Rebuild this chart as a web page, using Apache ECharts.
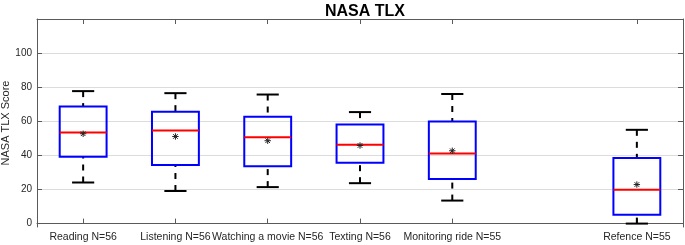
<!DOCTYPE html>
<html>
<head>
<meta charset="utf-8">
<script src="https://cdn.jsdelivr.net/npm/echarts@6/dist/echarts.min.js"></script>
<style>
html,body{margin:0;padding:0;background:#fff;}
#chart{width:685px;height:245px;}
</style>
</head>
<body>
<div id="chart"></div>
<script>
// Data
var categories = ['Reading N=56', 'Listening N=56', 'Watching a movie N=56', 'Texting N=56', 'Monitoring ride N=55', '', 'Refence N=55'];
var boxPositions = [0, 1, 2, 3, 4, 6];
var whiskerLow  = [24.1, 19.1, 21.4, 23.7, 13.5, 0.0];
var q1Values    = [39.2, 34.3, 33.7, 35.7, 26.1, 5.2];
var medianValues= [53.4, 54.6, 50.7, 46.2, 41.1, 19.8];
var q3Values    = [68.7, 65.6, 62.6, 58.1, 59.9, 38.4];
var whiskerHigh = [77.7, 76.5, 75.7, 65.4, 76.0, 55.0];
var meanValues  = [52.7, 51.1, 48.6, 45.8, 42.7, 22.9];
var yTicks = [0, 20, 40, 60, 80, 100];

var boxData = boxPositions.map(function (p, i) {
  return [p, whiskerLow[i], q1Values[i], medianValues[i], q3Values[i], whiskerHigh[i], meanValues[i]];
});

var axisColor = '#5a5a5a';
var textColor = '#262626';
var font = 'Liberation Sans, Arial, Helvetica, sans-serif';

function renderBox(params, api) {
  var x = api.value(0);
  var band = api.size([1, 0])[0];
  var hw = band * 0.254;
  var cw = band * 0.12;
  var pLow = api.coord([x, api.value(1)]);
  var pQ1 = api.coord([x, api.value(2)]);
  var pMed = api.coord([x, api.value(3)]);
  var pQ3 = api.coord([x, api.value(4)]);
  var pHigh = api.coord([x, api.value(5)]);
  var pMean = api.coord([x, api.value(6)]);
  var cx = pMed[0];
  var children = [];
  // whiskers (dashed)
  children.push({type: 'line', shape: {x1: cx, y1: pHigh[1], x2: cx, y2: pQ3[1]},
    style: {stroke: '#000', lineWidth: 2, lineDash: [6, 6], fill: null}});
  children.push({type: 'line', shape: {x1: cx, y1: pLow[1], x2: cx, y2: pQ1[1]},
    style: {stroke: '#000', lineWidth: 2, lineDash: [6, 6], fill: null}});
  // caps
  children.push({type: 'line', shape: {x1: cx - cw, y1: pHigh[1], x2: cx + cw, y2: pHigh[1]},
    style: {stroke: '#000', lineWidth: 2}});
  children.push({type: 'line', shape: {x1: cx - cw, y1: pLow[1], x2: cx + cw, y2: pLow[1]},
    style: {stroke: '#000', lineWidth: 2}});
  // box
  children.push({type: 'rect', shape: {x: cx - hw, y: pQ3[1], width: hw * 2, height: pQ1[1] - pQ3[1]},
    style: {stroke: '#0000ff', lineWidth: 2, fill: null}});
  // median
  children.push({type: 'line', shape: {x1: cx - hw, y1: pMed[1], x2: cx + hw, y2: pMed[1]},
    style: {stroke: '#ff0000', lineWidth: 2}});
  // mean asterisk
  var r = 3.2, mx = pMean[0], my = pMean[1], d = r * 0.72;
  [[-r, 0, r, 0], [0, -r, 0, r], [-d, -d, d, d], [-d, d, d, -d]].forEach(function (s) {
    children.push({type: 'line', shape: {x1: mx + s[0], y1: my + s[1], x2: mx + s[2], y2: my + s[3]},
      style: {stroke: '#222', lineWidth: 1}});
  });
  return {type: 'group', children: children};
}

var chart = echarts.init(document.getElementById('chart'), null, {renderer: 'canvas'});
var tickInterval = function (index) { return categories[index] !== ''; };
chart.setOption({
  animation: false,
  backgroundColor: '#fff',
  title: {
    text: 'NASA TLX', left: 360, top: -1, textAlign: 'center',
    textStyle: {fontFamily: font, fontSize: 16, fontWeight: 'bold', color: '#000'}
  },
  grid: {left: 37, right: 2, top: 19, bottom: 18, containLabel: false, outerBoundsMode: 'none'},
  xAxis: [{
    type: 'category', data: categories, boundaryGap: true, position: 'bottom',
    axisLine: {show: true, lineStyle: {color: axisColor, width: 1}},
    axisTick: {show: true, inside: true, length: 5, alignWithLabel: true, interval: tickInterval, lineStyle: {color: axisColor}},
    axisLabel: {interval: 0, margin: 5, color: textColor, fontFamily: font, fontSize: 10.5},
    splitLine: {show: false}
  }, {
    type: 'category', data: categories, boundaryGap: true, position: 'top',
    axisLine: {show: true, onZero: false, lineStyle: {color: axisColor, width: 1}},
    axisTick: {show: true, inside: true, length: 5, alignWithLabel: true, interval: tickInterval, lineStyle: {color: axisColor}},
    axisLabel: {show: false},
    splitLine: {show: false}
  }],
  yAxis: [{
    type: 'value', min: -2, max: 120, position: 'left',
    name: 'NASA TLX Score', nameLocation: 'middle', nameGap: 26, nameRotate: 90, nameMoveOverlap: false,
    nameTextStyle: {fontFamily: font, fontSize: 11, color: textColor},
    axisLine: {show: true, onZero: false, lineStyle: {color: axisColor, width: 1}},
    axisTick: {show: true, inside: true, length: 5, customValues: yTicks, lineStyle: {color: axisColor}},
    axisLabel: {margin: 5, customValues: yTicks, color: textColor, fontFamily: font, fontSize: 10},
    splitLine: {show: true, lineStyle: {color: '#dcdcdc', width: 1}}
  }, {
    type: 'value', min: -2, max: 120, position: 'right',
    axisLine: {show: true, onZero: false, lineStyle: {color: axisColor, width: 1}},
    axisTick: {show: true, inside: true, length: 5, customValues: yTicks, lineStyle: {color: axisColor}},
    axisLabel: {show: false},
    splitLine: {show: false}
  }],
  series: [{
    type: 'custom', xAxisIndex: 0, yAxisIndex: 0,
    renderItem: renderBox,
    encode: {x: 0, y: [1, 2, 3, 4, 5, 6]},
    data: boxData, z: 5
  }]
});
</script>
</body>
</html>
